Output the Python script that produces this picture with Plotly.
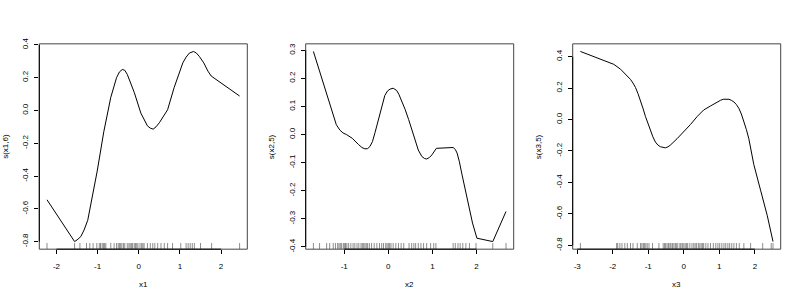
import plotly.graph_objects as go

# ---------------- data ----------------
x1_curve = [-2.23, -1.56, -1.50, -1.41, -1.33, -1.24, -1.01, -0.85, -0.68, -0.54, -0.47, -0.40, -0.34, -0.28,
            -0.11, 0.05, 0.21, 0.28, 0.35, 0.42, 0.50, 0.70, 0.86, 1.07, 1.15, 1.23, 1.33, 1.40, 1.47, 1.58,
            1.68, 1.76, 2.45]
s1_curve = [-0.545, -0.80, -0.79, -0.77, -0.73, -0.67, -0.37, -0.13, 0.08, 0.20, 0.235, 0.25, 0.245, 0.22,
            0.11, -0.016, -0.094, -0.108, -0.114, -0.10, -0.075, 0.004, 0.14, 0.29, 0.325, 0.35, 0.36, 0.35,
            0.33, 0.29, 0.24, 0.21, 0.088]
x1_rug = [-2.23, -1.56, -1.43, -1.27, -1.19, -1.11, -1.02, -0.96, -0.93, -0.89, -0.86, -0.83, -0.80, -0.68,
          -0.60, -0.54, -0.50, -0.47, -0.44, -0.41, -0.37, -0.34, -0.28, -0.24, -0.21, -0.18, -0.15, -0.11,
          -0.08, -0.05, -0.02, 0.03, 0.07, 0.10, 0.13, 0.21, 0.28, 0.34, 0.39, 0.46, 0.54, 0.62, 0.70, 0.82,
          1.02, 1.15, 1.20, 1.25, 1.30, 1.35, 1.50, 1.77, 2.45]

x2_curve = [-1.70, -1.63, -1.56, -1.48, -1.40, -1.32, -1.25, -1.18, -1.10, -1.03, -0.95, -0.82, -0.68, -0.60,
            -0.53, -0.47, -0.42, -0.36, -0.30, -0.24, -0.19, -0.13, -0.08, -0.02, 0.04, 0.11, 0.19, 0.24,
            0.30, 0.38, 0.46, 0.54, 0.61, 0.68, 0.76, 0.82, 0.87, 0.93, 0.99, 1.04, 1.09, 1.47, 1.52, 1.56,
            1.61, 1.67, 1.74, 1.82, 1.91, 2.01, 2.37, 2.67]
s2_curve = [0.296, 0.26, 0.225, 0.185, 0.145, 0.10, 0.065, 0.035, 0.016, 0.006, 0.0, -0.013, -0.035, -0.046,
            -0.051, -0.050, -0.043, -0.025, 0.008, 0.045, 0.077, 0.113, 0.139, 0.155, 0.162, 0.165, 0.157,
            0.143, 0.122, 0.090, 0.054, 0.012, -0.026, -0.055, -0.078, -0.085, -0.087, -0.082, -0.072, -0.060,
            -0.049, -0.046, -0.053, -0.066, -0.095, -0.141, -0.195, -0.255, -0.315, -0.369, -0.381, -0.274]
x2_rug = [-1.70, -1.56, -1.40, -1.33, -1.25, -1.20, -1.15, -1.12, -1.09, -1.06, -1.02, -0.99, -0.97, -0.94,
          -0.90, -0.85, -0.80, -0.76, -0.71, -0.67, -0.62, -0.59, -0.56, -0.53, -0.50, -0.47, -0.43, -0.38,
          -0.32, -0.26, -0.20, -0.15, -0.11, -0.06, -0.03, 0.00, 0.03, 0.06, 0.11, 0.17, 0.23, 0.29, 0.35,
          0.47, 0.53, 0.58, 0.62, 0.68, 0.74, 0.80, 0.87, 0.96, 1.03, 1.08, 1.47, 1.52, 1.58, 1.63, 1.69,
          1.76, 1.84, 1.99, 2.37, 2.67]

x3_curve = [-2.91, -2.44, -1.97, -1.78, -1.64, -1.50, -1.43, -1.36, -1.29, -1.22, -1.15, -1.08, -1.01, -0.94,
            -0.87, -0.80, -0.73, -0.66, -0.59, -0.52, -0.45, -0.38, -0.19, 0.00, 0.19, 0.38, 0.56, 0.75, 0.94,
            1.03, 1.11, 1.19, 1.27, 1.34, 1.41, 1.48, 1.55, 1.62, 1.69, 1.76, 1.83, 1.90, 1.97, 2.16, 2.35, 2.51]
s3_curve = [0.433, 0.392, 0.351, 0.320, 0.290, 0.255, 0.232, 0.204, 0.165, 0.122, 0.072, 0.020, -0.027,
            -0.071, -0.110, -0.143, -0.162, -0.173, -0.179, -0.180, -0.174, -0.163, -0.122, -0.078, -0.031,
            0.020, 0.061, 0.086, 0.112, 0.122, 0.129, 0.131, 0.129, 0.122, 0.112, 0.095, 0.071, 0.035, -0.010,
            -0.063, -0.122, -0.200, -0.286, -0.449, -0.612, -0.776]
x3_rug = [-2.91, -1.89, -1.86, -1.80, -1.74, -1.66, -1.59, -1.50, -1.43, -1.31, -1.22, -1.18, -1.14, -1.11,
          -1.07, -1.03, -0.98, -0.88, -0.70, -0.58, -0.54, -0.51, -0.47, -0.43, -0.39, -0.36, -0.32, -0.28,
          -0.24, -0.21, -0.17, -0.11, -0.08, -0.04, 0.00, 0.04, 0.08, 0.11, 0.17, 0.23, 0.28, 0.32, 0.36,
          0.41, 0.45, 0.49, 0.53, 0.56, 0.62, 0.68, 0.75, 0.83, 0.90, 0.96, 1.01, 1.07, 1.13, 1.18, 1.24,
          1.29, 1.35, 1.41, 1.48, 1.56, 1.69, 1.88, 2.22, 2.46, 2.51]

x_tickvals = [[-2, -1, 0, 1, 2], [-1, 0, 1, 2], [-3, -2, -1, 0, 1, 2]]
x_ticktext = [["-2", "-1", "0", "1", "2"], ["-1", "0", "1", "2"], ["-3", "-2", "-1", "0", "1", "2"]]
y_tickvals = [[0.4, 0.2, 0.0, -0.2, -0.4, -0.6, -0.8],
              [0.3, 0.2, 0.1, 0.0, -0.1, -0.2, -0.3, -0.4],
              [0.4, 0.2, 0.0, -0.2, -0.4, -0.6, -0.8]]
y_ticktext = [["0.4", "0.2", "0.0", "-0.2", "-0.4", "-0.6", "-0.8"],
              ["0.3", "0.2", "0.1", "0.0", "-0.1", "-0.2", "-0.3", "-0.4"],
              ["0.4", "0.2", "0.0", "-0.2", "-0.4", "-0.6", "-0.8"]]
x_titles = ["x1", "x2", "x3"]
y_titles = ["s(x1,6)", "s(x2,5)", "s(x3,5)"]

panels = [(x1_curve, s1_curve, x1_rug), (x2_curve, s2_curve, x2_rug), (x3_curve, s3_curve, x3_rug)]

# ---------------- layout geometry (pixels) ----------------
W, H = 800, 300
box_left = [39.3, 305.7, 572.7]
box_w = 208.0
box_top, box_bottom = 39.0, 250.7
FONT = "Liberation Sans, Arial, Helvetica, sans-serif"


def ext(vals, f=0.04):
    lo, hi = min(vals), max(vals)
    d = (hi - lo) * f
    return [lo - d, hi + d]


fig = go.Figure()
layout = dict(width=W, height=H, margin=dict(l=0, r=0, t=0, b=0),
              paper_bgcolor="white", plot_bgcolor="white", showlegend=False,
              font=dict(family=FONT, size=8, color="black"))
shapes = []
annotations = []

for i, (xc, sc, xr) in enumerate(panels):
    n = "" if i == 0 else str(i + 1)
    xa, ya = "x" + n, "y" + n
    xr_range = ext(xc)
    yr_range = ext(sc)
    # curve
    fig.add_trace(go.Scatter(x=xc, y=sc, mode="lines", xaxis=xa, yaxis=ya,
                             line=dict(color="black", width=1), hoverinfo="skip"))
    # rug
    h = 0.03 * (yr_range[1] - yr_range[0])
    rx, ry = [], []
    for v in xr:
        rx += [v, v, None]
        ry += [yr_range[0], yr_range[0] + h, None]
    fig.add_trace(go.Scatter(x=rx, y=ry, mode="lines", xaxis=xa, yaxis=ya,
                             line=dict(color="rgba(0,0,0,0.45)", width=1), hoverinfo="skip"))

    dx = [box_left[i] / W, (box_left[i] + box_w) / W]
    dy = [(H - box_bottom) / H, (H - box_top) / H]
    layout["xaxis" + n] = dict(domain=dx, range=xr_range, anchor=ya, showgrid=False, zeroline=False,
                               showline=False, ticks="outside", ticklen=4, tickwidth=1, tickcolor="black",
                               tickvals=x_tickvals[i], ticktext=x_ticktext[i],
                               tickfont=dict(family=FONT, size=8, color="black"), ticklabelstandoff=5)
    layout["yaxis" + n] = dict(domain=dy, range=yr_range, anchor=xa, showgrid=False, zeroline=False,
                               showline=False, ticks="outside", ticklen=4, tickwidth=1, tickcolor="black",
                               tickvals=y_tickvals[i], ticktext=y_ticktext[i], tickangle=-90,
                               tickfont=dict(family=FONT, size=8, color="black"), ticklabelstandoff=3)
    # box
    shapes.append(dict(type="rect", xref=xa + " domain", yref=ya + " domain", x0=0, x1=1, y0=0, y1=1,
                       line=dict(color="#444", width=1), layer="above"))
    # axis lines spanning first..last tick
    shapes.append(dict(type="line", xref=xa, yref=ya + " domain", x0=min(x_tickvals[i]), x1=max(x_tickvals[i]),
                       y0=0, y1=0, line=dict(color="black", width=1), layer="above"))
    shapes.append(dict(type="line", xref=xa + " domain", yref=ya, x0=0, x1=0, y0=min(y_tickvals[i]),
                       y1=max(y_tickvals[i]), line=dict(color="black", width=1), layer="above"))
    # axis titles
    annotations.append(dict(text=x_titles[i], xref="paper", yref="paper",
                            x=(box_left[i] + box_w / 2) / W, y=(H - 287) / H,
                            showarrow=False, xanchor="center", yanchor="middle",
                            font=dict(family=FONT, size=8, color="black")))
    annotations.append(dict(text=y_titles[i], xref="paper", yref="paper",
                            x=(box_left[i] - 34) / W, y=(H - (box_top + box_bottom) / 2) / H,
                            showarrow=False, textangle=-90, xanchor="center", yanchor="middle",
                            font=dict(family=FONT, size=8, color="black")))

layout["shapes"] = shapes
layout["annotations"] = annotations
fig.update_layout(**layout)
fig.write_html("out.html")
